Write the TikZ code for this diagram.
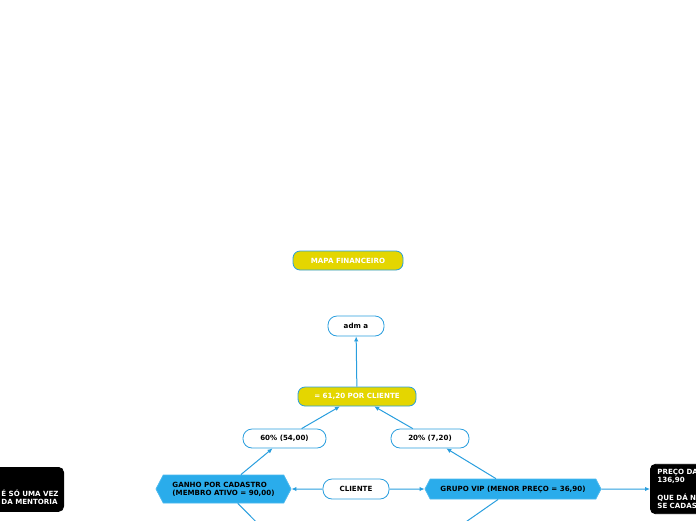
\documentclass[tikz,border=0pt]{standalone}
\usepackage{fontspec}
\setmainfont{DejaVu Sans}
\usetikzlibrary{shapes.symbols, arrows.meta}
\definecolor{azullinha}{RGB}{41,158,222}
\definecolor{azulcaixa}{RGB}{42,172,235}
\definecolor{amarelocaixa}{RGB}{228,214,0}

\tikzset{
  textobase/.style={font=\bfseries\fontsize{7.1}{8}\selectfont, inner sep=0pt, line width=0.8pt},
  caixaamarela/.style={textobase, draw=azullinha, fill=amarelocaixa, text=white, rounded corners=7pt},
  caixabranca/.style={textobase, draw=azullinha, fill=white, text=black, rounded corners=9pt},
  caixaazul/.style={textobase, draw=azulcaixa!85!white, fill=azulcaixa, text=black, signal, signal to=west and east, signal pointer angle=125},
  caixapreta/.style={textobase, draw=black, fill=black, text=white, rounded corners=5pt},
  seta/.style={draw=azullinha, line width=1pt, -{Latex[length=5pt,width=4.5pt]}}
}

\begin{document}
\begin{tikzpicture}[x=1pt, y=-1pt]
  % Cadre
  \useasboundingbox (0,0) rectangle (696,520);

  % Caixas
  \node[caixaamarela, minimum width=110pt, minimum height=19pt] (mapa) at (348,260.5) {MAPA FINANCEIRO};
  \node[caixabranca, minimum width=56pt, minimum height=20pt] (adm) at (356,326) {adm a};
  \node[caixaamarela, minimum width=118pt, minimum height=19pt] (valor) at (357,396.5) {= 61,20 POR CLIENTE};
  \node[caixabranca, minimum width=83pt, minimum height=19pt] (sessenta) at (284.5,438.5) {60\% (54,00)};
  \node[caixabranca, minimum width=78pt, minimum height=19pt] (vinte) at (430,438.5) {20\% (7,20)};
  \node[caixabranca, minimum width=66pt, minimum height=20pt] (cliente) at (356,489) {CLIENTE};
  \node[caixaazul, minimum width=135pt, minimum height=28pt, align=left] (ganho) at (223.5,489) {GANHO POR CADASTRO\\(MEMBRO ATIVO = 90,00)};
  \node[caixaazul, minimum width=176pt, minimum height=20pt] (grupo) at (513,489) {GRUPO VIP (MENOR PREÇO = 36,90)};
  \node[caixapreta, anchor=west, text width=66pt, align=left, inner xsep=7pt, inner ysep=5pt] (precos) at (650,489) {PREÇO DA\\136,90\\[10pt]QUE DÁ N\\SE CADAS};
  \node[caixapreta, anchor=north east, minimum width=90pt, minimum height=44pt] (pagamento) at (64,467) {};
  \node[textobase, text=white, anchor=west, align=left] (pagtexto) at (1,497) {É SÓ UMA VEZ\\DA MENTORIA};

  % Saidas fora do quadro
  \coordinate (baixoesq) at (290,556);
  \coordinate (baixodir) at (440,540);

  % Setas
  \draw[seta] (valor) -- (adm);
  \draw[seta] (sessenta) -- (valor);
  \draw[seta] (vinte) -- (valor);
  \draw[seta] (ganho) -- (sessenta);
  \draw[seta] (grupo) -- (vinte);
  \draw[seta] (cliente) -- (ganho);
  \draw[seta] (cliente) -- (grupo);
  \draw[seta] (grupo) -- (precos);
  \draw[seta] (ganho) -- (baixoesq);
  \draw[seta] (grupo) -- (baixodir);
\end{tikzpicture}
\end{document}
